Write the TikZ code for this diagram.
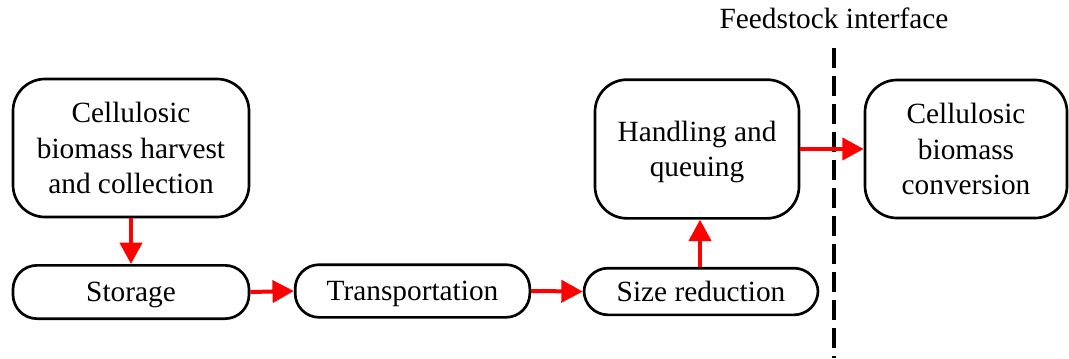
\documentclass[tikz,border=0pt]{standalone}
\usepackage{fontspec}
\setmainfont{Liberation Serif}[Ligatures=TeX]
\usetikzlibrary{arrows.meta}
\begin{document}
\begin{tikzpicture}[x=0.75pt,y=-0.75pt,
  txt/.style={font=\fontsize{22}{26.6}\selectfont},
  bigbox/.style={txt,draw,line width=2pt,rounded corners=24pt,align=center,
    inner sep=0pt,text depth=0pt},
  smallbox/.style={txt,draw,line width=2pt,rounded corners=18pt,align=center,
    inner sep=0pt,text height=14.6pt,text depth=0pt},
  flow/.style={draw=red,line width=3pt,-{Triangle[length=16pt,width=16.5pt]}}]
\useasboundingbox (0,0) rectangle (1069,358);
% process boxes
\node[bigbox,minimum width=177pt,minimum height=103.5pt] (harvest) at (131,148)
  {Cellulosic\\biomass harvest\\and collection};
\node[smallbox,minimum width=177pt,minimum height=40pt] (storage) at (131,292) {Storage};
\node[smallbox,minimum width=176pt,minimum height=39.5pt] (transport) at (412.5,291) {Transportation};
\node[smallbox,minimum width=175.5pt,minimum height=35pt] (sizered) at (701,291.5) {Size reduction};
\node[bigbox,minimum width=153pt,minimum height=104pt] (handling) at (697,149)
  {Handling and\\queuing};
\node[bigbox,minimum width=151.5pt,minimum height=103.5pt] (conversion) at (966,149)
  {Cellulosic\\biomass\\conversion};
% feedstock interface boundary
\coordinate (ifTop) at (834,48);
\coordinate (ifBot) at (834,358);
\draw[line width=2.4pt,dash pattern=on 15pt off 6pt] (ifTop) -- (ifBot);
\node[txt,inner sep=0pt] (iflabel) at (834,18) {Feedstock interface};
% material flow
\draw[flow] (harvest.south) -- (storage.north);
\draw[flow] (storage.east) -- (transport.west);
\draw[flow] (transport.east) -- (sizered.west);
\draw[flow] ([xshift=-0.75pt]sizered.north) -- ([xshift=-0.75pt]sizered.north |- handling.south);
\draw[flow] (handling.east) -- (conversion.west);
\end{tikzpicture}
\end{document}
